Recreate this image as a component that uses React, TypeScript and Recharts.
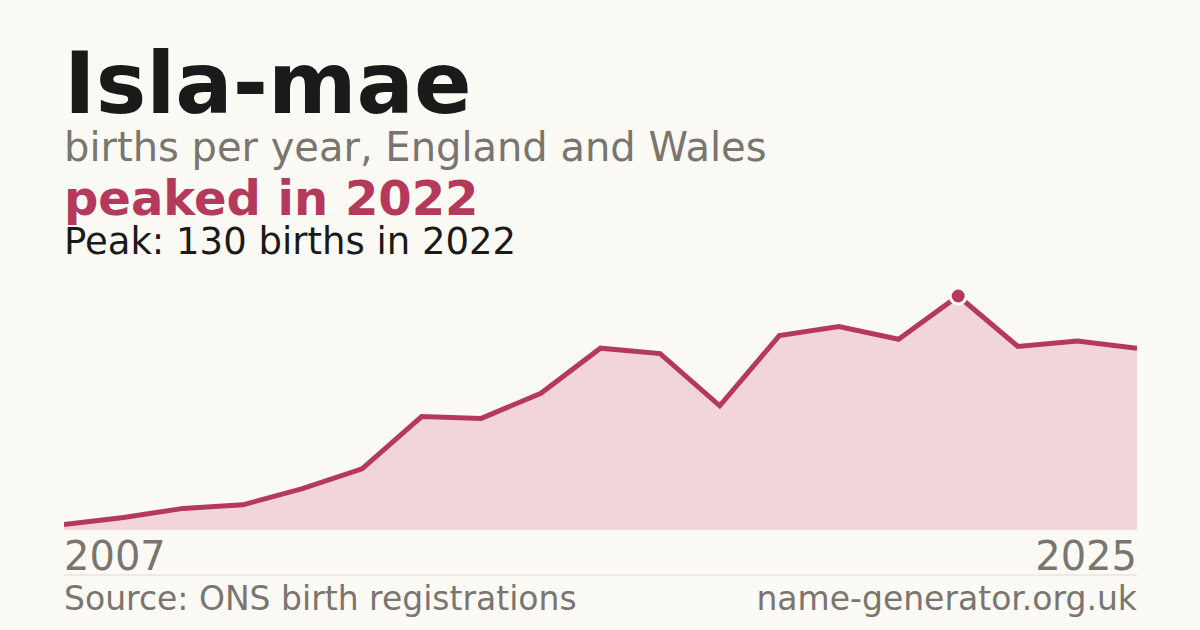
import React from 'react';
import { AreaChart, Area, XAxis, YAxis, ReferenceDot } from 'recharts';

const years = [2007, 2008, 2009, 2010, 2011, 2012, 2013, 2014, 2015, 2016, 2017, 2018, 2019, 2020, 2021, 2022, 2023, 2024, 2025];
const births = [3, 7, 12, 14, 23, 34, 63, 62, 76, 101, 98, 69, 108, 113, 106, 130, 102, 105, 101];
const tickYears = [2007, 2025];
const peakYear = 2022;
const peakValue = 130;

const data = years.map((year, i) => ({ year, births: births[i] }));

const LINE = '#b5395a';
const FILL = '#f2d5db';
const GRAY = '#7a756e';
const BG = '#fbfaf5';
const FONT = '"DejaVu Sans", sans-serif';

const YearTick = (props: any) => {
  const { x, y, payload, index } = props;
  const anchor = index === 0 ? 'start' : 'end';
  return (
    <text x={x} y={y + 40} textAnchor={anchor} fill={GRAY} fontSize={40} fontFamily={FONT}>
      {payload.value}
    </text>
  );
};

export default function App() {
  return (
    <div style={{ position: 'absolute', left: 0, top: 0, width: 1200, height: 630, background: BG, overflow: 'hidden' }}>
      <svg width={1200} height={630} style={{ position: 'absolute', left: 0, top: 0 }}>
        <text x={64} y={113} fontSize={85} fontWeight="bold" fill="#1a1a1a" fontFamily={FONT}>Isla-mae</text>
        <text x={64} y={161} fontSize={40} fill={GRAY} fontFamily={FONT}>births per year, England and Wales</text>
        <text x={64} y={215} fontSize={48} fontWeight="bold" fill={LINE} fontFamily={FONT}>peaked in 2022</text>
        <text x={64} y={254} fontSize={37} fill="#1a1a1a" fontFamily={FONT}>Peak: 130 births in 2022</text>
        <line x1={64} x2={1137} y1={575} y2={575} stroke="#dedad2" strokeWidth={1} />
        <text x={64} y={610} fontSize={33} fill={GRAY} fontFamily={FONT}>Source: ONS birth registrations</text>
        <text x={1137} y={610} fontSize={33} fill={GRAY} fontFamily={FONT} textAnchor="end">name-generator.org.uk</text>
      </svg>
      <div style={{ position: 'absolute', left: 64, top: 276 }}>
        <AreaChart width={1073} height={304} data={data} margin={{ top: 20, right: 0, bottom: 0, left: 0 }}>
          <XAxis
            dataKey="year"
            type="number"
            domain={[2007, 2025]}
            ticks={tickYears}
            tick={<YearTick />}
            tickLine={false}
            axisLine={false}
            tickSize={0}
            tickMargin={0}
            height={50}
            interval={0}
          />
          <YAxis hide domain={[0, peakValue]} />
          <Area
            type="linear"
            dataKey="births"
            stroke={LINE}
            strokeWidth={5}
            fill={FILL}
            fillOpacity={1}
            dot={false}
            activeDot={false}
            isAnimationActive={false}
          />
          <ReferenceDot x={peakYear} y={peakValue} r={8} fill={LINE} stroke="#ffffff" strokeWidth={3} ifOverflow="visible" />
        </AreaChart>
      </div>
    </div>
  );
}
